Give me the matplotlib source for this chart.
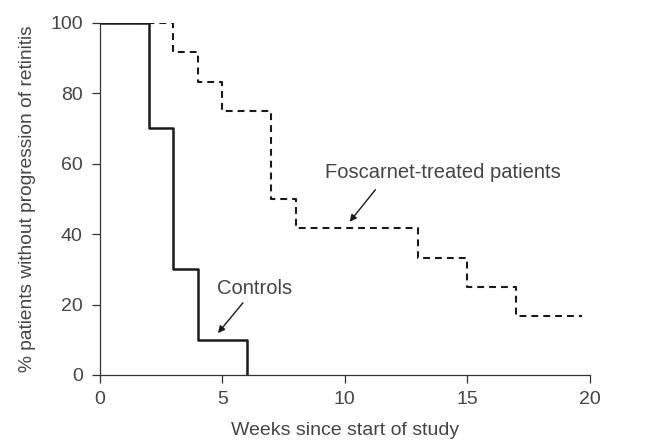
import numpy as np
import matplotlib
matplotlib.use('Agg')
import matplotlib.pyplot as plt

plt.rcParams['font.family'] = ['Liberation Sans', 'DejaVu Sans']

# Kaplan-Meier style step data
controls_weeks = [0, 2, 3, 4, 6, 6]
controls_pct = [100, 70, 30, 10, 0, 0]

foscarnet_weeks = [0, 3, 4, 5, 7, 8, 13, 15, 17, 19.7]
foscarnet_pct = [100, 91.7, 83.3, 75, 50, 41.7, 33.3, 25, 16.7, 16.7]

x_ticks = [0, 5, 10, 15, 20]
y_ticks = [0, 20, 40, 60, 80, 100]

txt_color = '#444444'

fig = plt.figure(figsize=(6.51, 4.43), dpi=100)
ax = fig.add_axes([0.1536, 0.1535, 0.752, 0.795])

ax.step(controls_weeks, controls_pct, where='post', color='#1a1a1a', linewidth=1.8)
ax.step(foscarnet_weeks, foscarnet_pct, where='post', color='#1a1a1a', linewidth=1.5,
        dashes=(3.3, 2.4))

ax.set_xlim(0, 20)
ax.set_ylim(0, 100)
ax.set_xticks(x_ticks)
ax.set_yticks(y_ticks)
for s in ['top', 'right']:
    ax.spines[s].set_visible(False)
for s in ['left', 'bottom']:
    ax.spines[s].set_color('#333333')
    ax.spines[s].set_linewidth(0.9)
ax.tick_params(direction='out', length=5.5, width=0.9, colors='#333333',
               labelcolor=txt_color, labelsize=14)
ax.tick_params(axis='y', pad=7)
ax.tick_params(axis='x', pad=6)

ax.set_xlabel('Weeks since start of study', fontsize=14, color=txt_color, labelpad=10)
ax.set_ylabel('% patients without progression of retinitis', fontsize=13.8, color=txt_color,
              labelpad=10)

ax.text(9.2, 57.5, 'Foscarnet-treated patients', fontsize=14.5, color=txt_color,
        va='center', ha='left')
ax.annotate('', xy=(10.2, 43.5), xytext=(11.25, 52.6),
            arrowprops=dict(arrowstyle='-|>', color='#1a1a1a', lw=1.0,
                            shrinkA=0, shrinkB=0, mutation_scale=10))
ax.text(4.8, 24.7, 'Controls', fontsize=14.5, color=txt_color, va='center', ha='left')
ax.annotate('', xy=(4.82, 11.9), xytext=(5.84, 20.5),
            arrowprops=dict(arrowstyle='-|>', color='#1a1a1a', lw=1.0,
                            shrinkA=0, shrinkB=0, mutation_scale=10))

fig.savefig('out.png', dpi=100)
